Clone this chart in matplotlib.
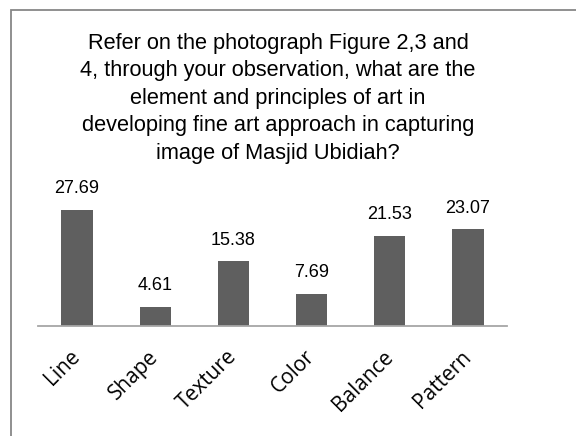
import matplotlib.pyplot as plt
from matplotlib.patches import Rectangle

categories = ['Line', 'Shape', 'Texture', 'Color', 'Balance', 'Pattern']
values = [27.69, 4.61, 15.38, 7.69, 21.53, 23.07]
value_labels = ['27.69', '4.61', '15.38', '7.69', '21.53', '23.07']

title = ('Refer on the photograph Figure 2,3 and\n'
         '4, through your observation, what are the\n'
         'element and principles of art in\n'
         'developing fine art approach in capturing\n'
         'image of Masjid Ubidiah?')

W, H = 576, 436
fig = plt.figure(figsize=(W / 100, H / 100), dpi=100)
fig.patch.set_facecolor('white')

# chart border (cropped on right and bottom)
fig.add_artist(Rectangle((11 / W, -0.05), 1.1, 1 - 10 / H + 0.05,
                         transform=fig.transFigure, fill=False,
                         edgecolor='#878787', linewidth=1.3))

ax = fig.add_axes([38 / W, 1 - 326 / H, 469 / W, 126 / H])
x = list(range(len(categories)))
ax.bar(x, values, width=0.4, color='#5f5f5f')
ax.set_xlim(-0.5, len(categories) - 0.5)
ax.set_ylim(0, 30)

for xi, v, lab in zip(x, values, value_labels):
    ax.annotate(lab, (xi, v), xytext=(0, 9), textcoords='offset points',
                ha='center', va='bottom', fontsize=13,
                family='Liberation Sans', color='black')

for s in ['top', 'right', 'left']:
    ax.spines[s].set_visible(False)
ax.spines['bottom'].set_color('#a6a6a6')
ax.spines['bottom'].set_linewidth(1.3)
ax.set_yticks([])
ax.set_xticks(x)
ax.set_xticklabels(categories, rotation=45, ha='right', va='center',
                   rotation_mode='anchor', fontsize=15, family='Open Sans')
ax.tick_params(axis='x', length=0, pad=20)

fig.text(278 / W, 1 - 33 / H, title, ha='center', va='top', fontsize=15.7,
         family='Liberation Sans', linespacing=1.4)

fig.savefig('out.png', dpi=100)
